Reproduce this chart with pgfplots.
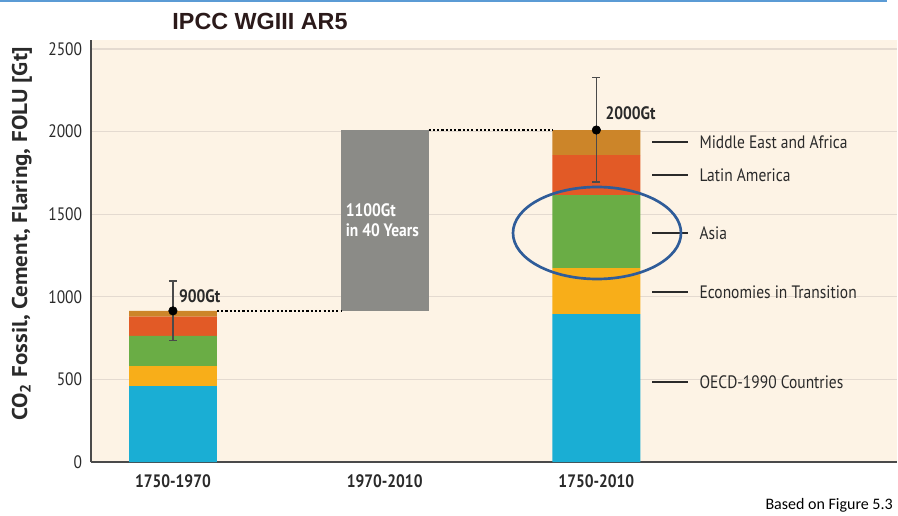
\documentclass[border=0pt]{standalone}
\usepackage{pgfplots}
\pgfplotsset{compat=1.18}
\usepackage{pgfplotstable}
\usepackage{fontspec}
\setmainfont{PT Sans}[FakeStretch=0.86]
\newfontfamily\ylabfont{PT Sans}[FakeStretch=1.08]
\newfontfamily\titlefont{Liberation Sans}
\newfontfamily\notefont{Carlito}
\newcommand\lbl{\fontsize{13.5pt}{15pt}\selectfont}

\definecolor{coecd}{HTML}{1AAED4}
\definecolor{cecon}{HTML}{F8AE19}
\definecolor{casia}{HTML}{6AAD45}
\definecolor{clat}{HTML}{E25A26}
\definecolor{cmea}{HTML}{CC8529}
\definecolor{cgray}{HTML}{8B8B87}
\definecolor{cbg}{HTML}{FDF3E5}
\definecolor{cgrid}{HTML}{E4DAD0}
\definecolor{caxis}{HTML}{4A4A4A}
\definecolor{cell}{HTML}{2F5C99}
\definecolor{ctop}{HTML}{5B9BD5}
\definecolor{ctitle}{HTML}{2B1A1A}
\definecolor{ctext}{HTML}{2A2A2A}

\pgfplotstableread{
x base oecd econ asia latam mea gray
0 0   460 121 182 117 35  0
1 915 0   0   0   0   0   1095
2 0   896 278 442 242 152 0
}\emissions

\pgfplotsset{
  common/.style={
    at={(68.25pt,39.75pt)}, anchor=south west,
    scale only axis, width=604.5pt, height=316.5pt,
    xmin=-0.387, xmax=3.42, ymin=0, ymax=2555,
  }
}

\begin{document}
\begin{tikzpicture}[x=0.75pt,y=0.75pt]
\useasboundingbox (0,0) rectangle (898,515);
\draw[ctop, line width=1.5pt] (0,514) -- (887,514);
\node[font=\titlefont\bfseries\fontsize{17.5pt}{19pt}\selectfont, text=ctitle] at (260,494) {IPCC WGIII AR5};
\node[font=\notefont\fontsize{12pt}{14pt}\selectfont, anchor=east, inner sep=0pt] at (893,10) {Based on Figure 5.3};

\begin{axis}[common,
  ybar stacked, bar width=0.415,
  axis background/.style={fill=cbg},
  axis lines=left,
  axis line style={-, line width=1.3pt, color=caxis},
  ymajorgrids, grid style={color=cgrid, line width=0.9pt},
  ytick={0,500,1000,1500,2000,2500},
  xtick={0,1,2}, xticklabels={1750-1970,1970-2010,1750-2010},
  major tick length=0pt,
  /pgf/number format/assume math mode=true,
  /pgf/number format/1000 sep={},
  yticklabel style={font=\lbl, text=ctext, inner sep=0pt, xshift=-6.5pt},
  xticklabel style={font=\lbl\bfseries, text=ctext, inner sep=0pt, anchor=north, yshift=-9pt},
  ylabel={CO\textsubscript{2} Fossil, Cement, Flaring, FOLU [Gt]},
  ylabel style={font=\ylabfont\bfseries\fontsize{16pt}{18pt}\selectfont, text=ctext, at={(axis description cs:-0.0856,0.541)}, anchor=center},
  every axis plot/.append style={draw=none},
]
\addplot[fill=none, draw=none] table[x=x, y=base] {\emissions};
\addplot[fill=coecd] table[x=x, y=oecd] {\emissions};
\addplot[fill=cecon] table[x=x, y=econ] {\emissions};
\addplot[fill=casia] table[x=x, y=asia] {\emissions};
\addplot[fill=clat] table[x=x, y=latam] {\emissions};
\addplot[fill=cmea] table[x=x, y=mea] {\emissions};
\addplot[fill=cgray] table[x=x, y=gray] {\emissions};
\end{axis}

\begin{axis}[common, hide axis, clip=false]
% dotted connectors
\addplot[black, line width=1.6pt, dash pattern=on 1.6pt off 1.6pt] coordinates {(0.2075,915) (0.7925,915)};
\addplot[black, line width=1.6pt, dash pattern=on 1.6pt off 1.6pt] coordinates {(1.2075,2010) (1.7925,2010)};
% uncertainty ranges
\addplot[only marks, mark=*, mark size=3.2pt, mark options={fill=black, draw=black},
  error bars/.cd, y dir=both, y explicit,
  error bar style={line width=0.9pt, color=caxis},
  error mark options={rotate=90, mark size=3pt, line width=0.9pt, color=caxis}]
  coordinates {(0,915) += (0,181) -= (0,177) (2,2010) += (0,320) -= (0,315)};
% region label leaders
\addplot[ctext, line width=0.9pt] coordinates {(2.264,1937) (2.434,1937)};
\addplot[ctext, line width=0.9pt] coordinates {(2.264,1738) (2.434,1738)};
\addplot[ctext, line width=0.9pt] coordinates {(2.264,1386) (2.434,1386)};
\addplot[ctext, line width=0.9pt] coordinates {(2.264,1029) (2.434,1029)};
\addplot[ctext, line width=0.9pt] coordinates {(2.264,484) (2.434,484)};
\begin{scope}[every node/.style={font=\lbl, text=ctext, anchor=west, inner sep=0pt}]
\node at (axis cs:2.486,1937) {Middle East and Africa};
\node at (axis cs:2.486,1738) {Latin America};
\node at (axis cs:2.486,1386) {Asia};
\node at (axis cs:2.486,1029) {Economies in Transition};
\node at (axis cs:2.486,484) {OECD-1990 Countries};
\end{scope}
\node[font=\lbl\bfseries, text=ctext, anchor=west, inner sep=0pt] at (axis cs:0.028,1005) {900Gt};
\node[font=\lbl\bfseries, text=ctext, anchor=west, inner sep=0pt] at (axis cs:2.042,2113) {2000Gt};
\node[font=\lbl\bfseries, text=white, anchor=west, inner sep=0pt, align=left] at (axis cs:0.815,1466) {1100Gt\\in 40 Years};
\end{axis}
\draw[cell, line width=2pt] (597,282) ellipse [x radius=84, y radius=46];
\end{tikzpicture}
\end{document}
